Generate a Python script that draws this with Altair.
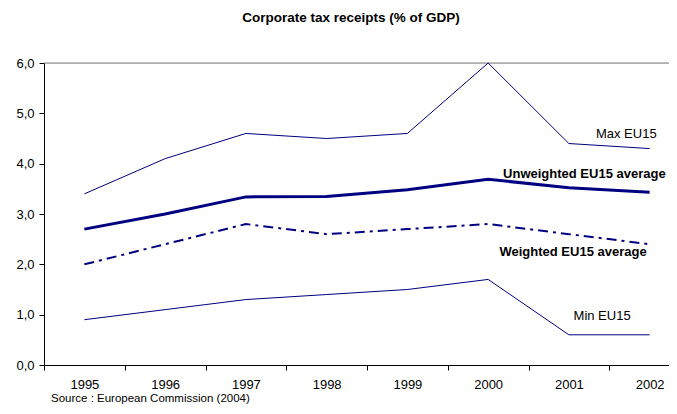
import altair as alt
import pandas as pd

years = ["1995", "1996", "1997", "1998", "1999", "2000", "2001", "2002"]
max_eu15 = [3.4, 4.1, 4.6, 4.5, 4.6, 6.0, 4.4, 4.3]
unweighted = [2.7, 3.0, 3.34, 3.35, 3.48, 3.69, 3.52, 3.43]
weighted = [2.0, 2.4, 2.8, 2.6, 2.7, 2.8, 2.6, 2.4]
min_eu15 = [0.9, 1.1, 1.3, 1.4, 1.5, 1.7, 0.6, 0.6]
series_names = ["Max EU15", "Unweighted EU15 average", "Weighted EU15 average", "Min EU15"]
y_ticks = [0, 1, 2, 3, 4, 5, 6]

NAVY = "#000080"
FONT = "Liberation Sans"
W, H = 625, 302
FULL_W = 646  # full category axis width (right part falls outside the picture)

rows = []
for name, vals in zip(series_names, [max_eu15, unweighted, weighted, min_eu15]):
    for yr, v in zip(years, vals):
        rows.append({"series": name, "year": yr, "value": v})
df = pd.DataFrame(rows)

x = alt.X("year:O", scale=alt.Scale(type="band", paddingInner=0, paddingOuter=0, domain=years,
                                    range=[0, FULL_W]),
          axis=alt.Axis(title=None, labelAngle=0, tickBand="extent", labelFont=FONT, labelFontSize=13,
                        labelColor="#000", domainColor="#000", tickColor="#000", tickSize=5,
                        labelPadding=8, grid=False))
y = alt.Y("value:Q", scale=alt.Scale(domain=[0, 6], nice=False),
          axis=alt.Axis(title=None, values=y_ticks, labelExpr="replace(format(datum.value,'.1f'),'.',',')",
                        labelFont=FONT, labelFontSize=13, labelColor="#000", domainColor="#000",
                        tickColor="#000", tickSize=5, labelPadding=5, grid=False))

base = alt.Chart(df)

def line(name, width, dash=None):
    kw = dict(color=NAVY, strokeWidth=width)
    if dash:
        kw["strokeDash"] = dash
    return base.transform_filter(alt.datum.series == name).mark_line(**kw).encode(x=x, y=y)

lines = [
    line("Max EU15", 1),
    line("Unweighted EU15 average", 3),
    line("Weighted EU15 average", 2, [10, 5, 3, 5]),
    line("Min EU15", 1),
]

last = df[df.year == years[-1]]

def label(name, dx, dy, bold):
    return alt.Chart(last).transform_filter(alt.datum.series == name).mark_text(
        align="right", baseline="middle", font=FONT, fontSize=13,
        fontWeight="bold" if bold else "normal", color="#000", dx=dx, dy=dy
    ).encode(x=alt.X("year:O"), y=alt.Y("value:Q"), text="series:N")

labels = [
    label("Max EU15", 7, -15, False),
    label("Unweighted EU15 average", 16, -18, True),
    label("Weighted EU15 average", -3, 8, True),
    label("Min EU15", -19, -19, False),
]

top_rule = alt.Chart(pd.DataFrame({"v": [y_ticks[-1]]})).mark_rule(color="#808080", strokeWidth=1).encode(
    y=alt.Y("v:Q"), x=alt.value(0), x2=alt.value(FULL_W))

title = alt.Chart(pd.DataFrame({"t": ["Corporate tax receipts (% of GDP)"]})).mark_text(
    font=FONT, fontSize=13.5, fontWeight="bold", align="center", baseline="middle", color="#000"
).encode(x=alt.value(307), y=alt.value(-45), text="t:N")

source = alt.Chart(pd.DataFrame({"t": ["Source : European Commission (2004)"]})).mark_text(
    font=FONT, fontSize=11.5, align="left", baseline="bottom", color="#000"
).encode(x=alt.value(7), y=alt.value(H + 39), text="t:N")

chart = alt.layer(top_rule, *lines, *labels, title, source).properties(
    width=W, height=H,
    autosize=alt.AutoSizeParams(type="none"),
    padding={"left": 36, "top": 55, "right": 0, "bottom": 41},
).configure_view(stroke=None).configure(background="white")

chart.save("out.html", embed_options={"renderer": "svg", "actions": False})
